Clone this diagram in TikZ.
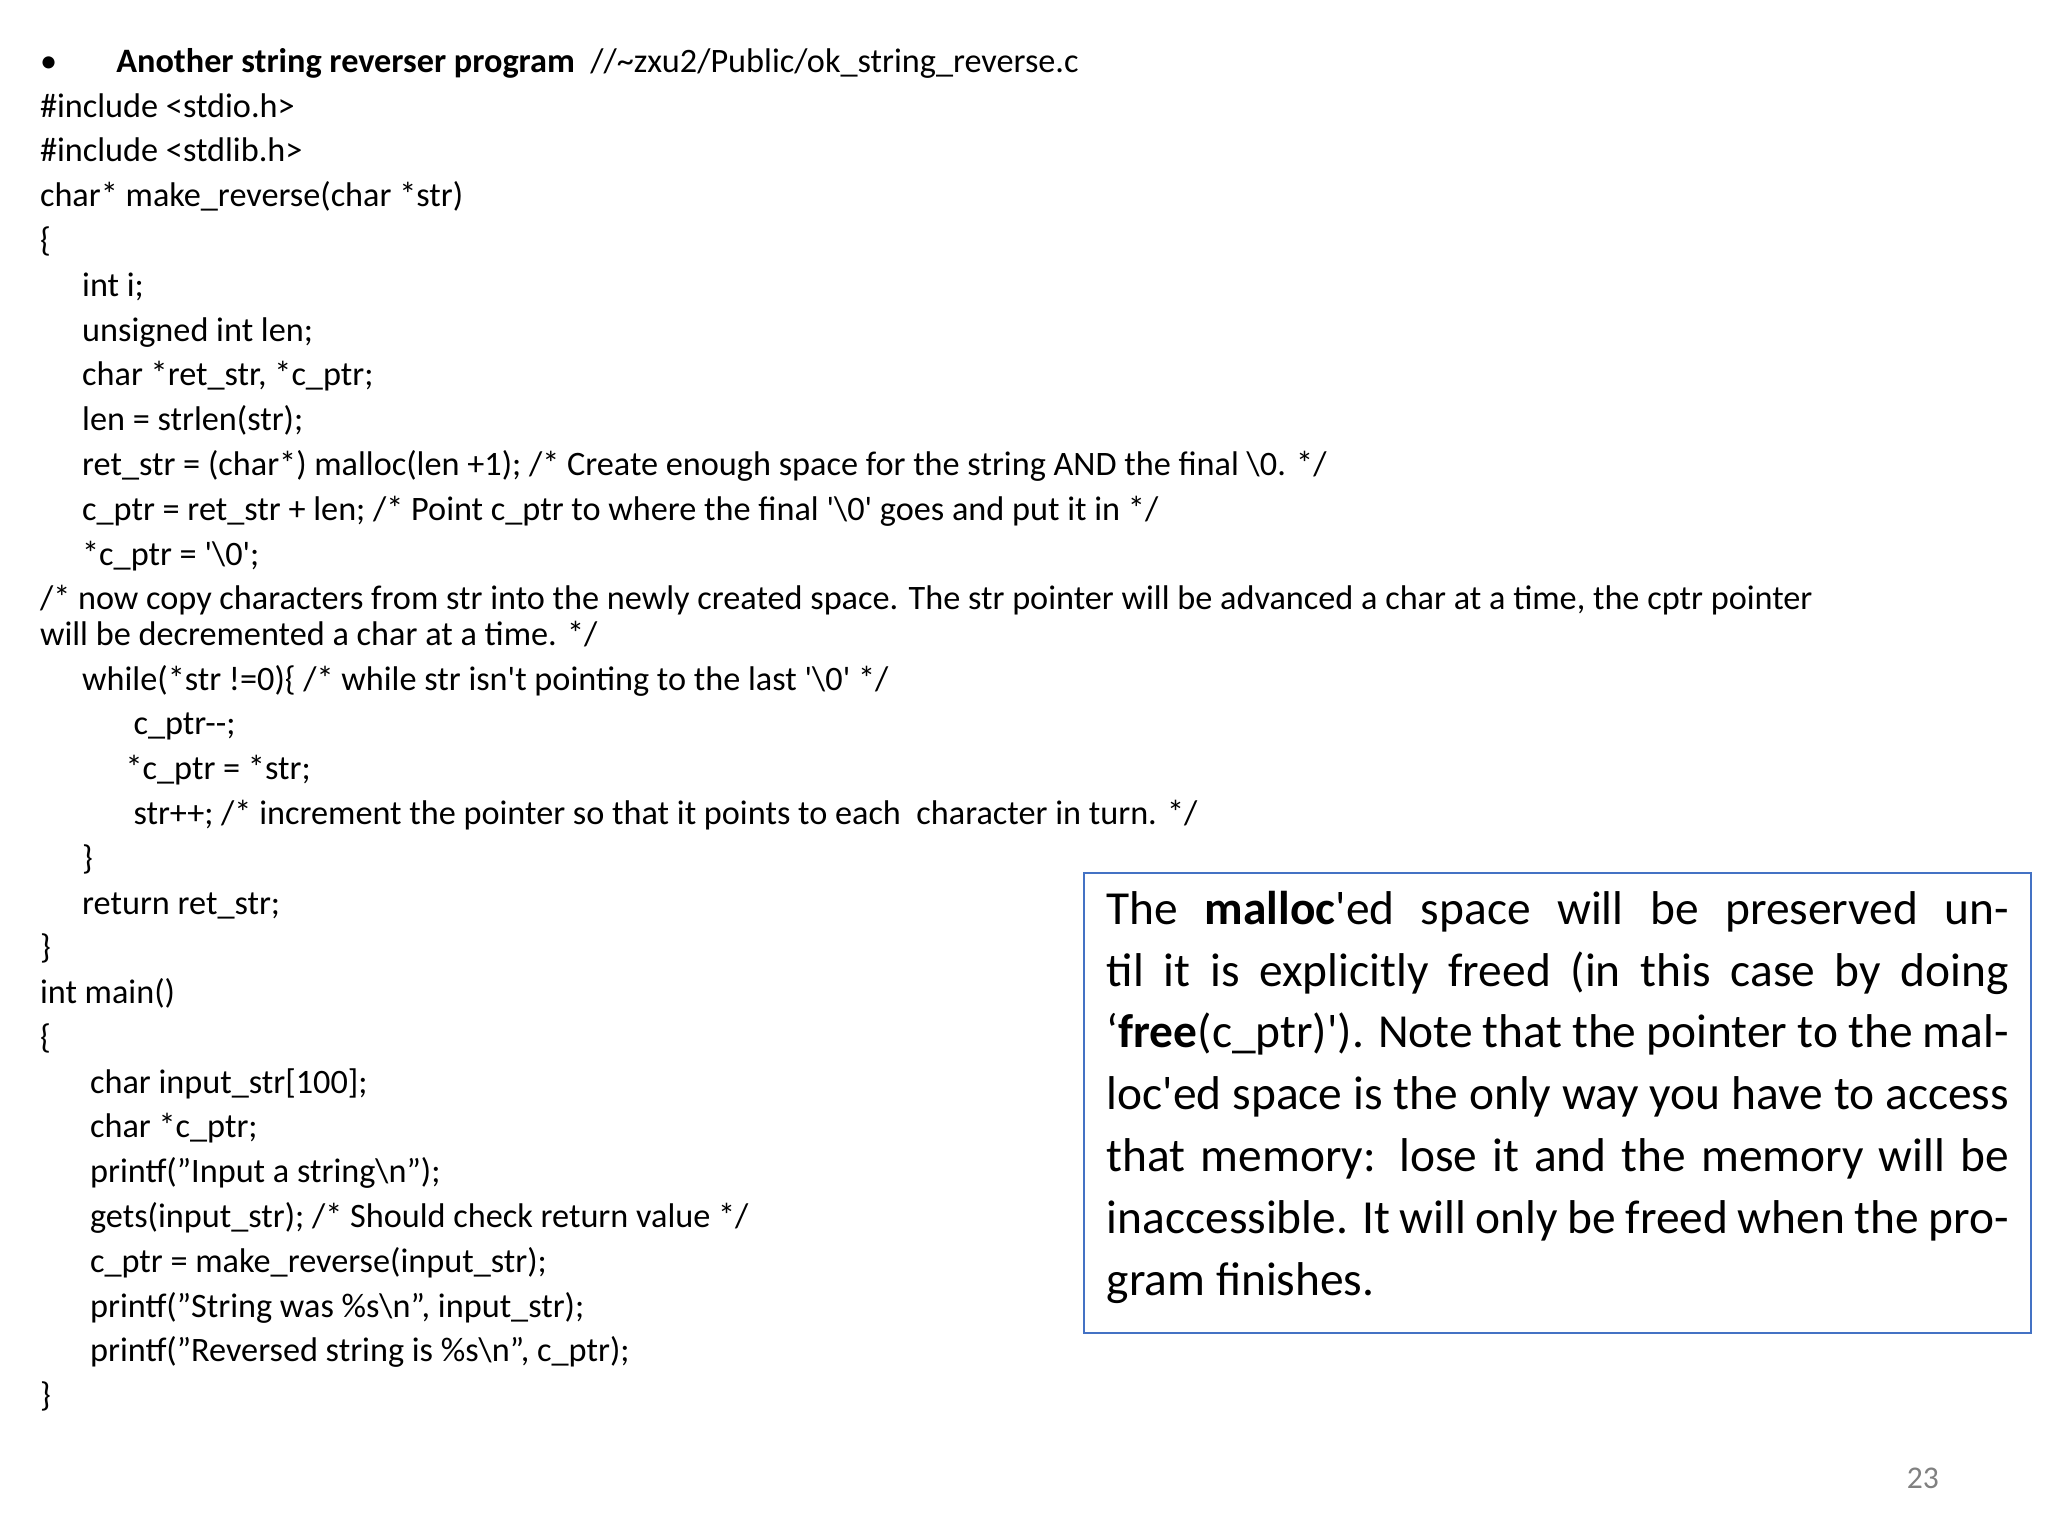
\documentclass[tikz,border=0pt]{standalone}
\usepackage{fontspec}
\setmainfont{Carlito}
\newcommand{\bsl}{\textbackslash}
\newcommand{\sq}{\textquotesingle}
\begin{document}
\begin{tikzpicture}[x=0.5pt,y=-0.5pt,
  cl/.style={anchor=base west,inner sep=0pt,font=\fontsize{13}{15}\selectfont}]
\useasboundingbox (0,0) rectangle (1555,1166);
\def\L#1#2#3{\node[cl] at (#1,#2+9) {#3};}
\node[cl] (bul) at (30,55) {•};
\node[cl] (title) at (88,55) {\textbf{Another string reverser program}\ \ //\textasciitilde zxu2/Public/ok\_string\_reverse.c};
\node[cl] (l1) at (30,89) {\#include <stdio.h>};
\node[cl] (l2) at (30,123) {\#include <stdlib.h>};
\node[cl] (l3) at (30,157) {char* make\_reverse(char *str)};
\node[cl] (l4) at (30,191) {\{};
\node[cl] (l5) at (62,225) {int i;};
\node[cl] (l6) at (62,259) {unsigned int len;};
\node[cl] (l7) at (62,293) {char *ret\_str, *c\_ptr;};
\node[cl] (l8) at (62,327) {len = strlen(str);};
\node[cl] (l9) at (62,361) {ret\_str = (char*) malloc(len +1); /* Create enough space for the string AND the final \bsl 0. */};
\node[cl] (l10) at (62,395) {c\_ptr = ret\_str + len; /* Point c\_ptr to where the final \sq\bsl 0\sq{} goes and put it in */};
\node[cl] (l11) at (62,429) {*c\_ptr = \sq\bsl 0\sq;};
\node[cl] (l12) at (30,463) {/* now copy characters from str into the newly created space. The str pointer will be advanced a char at a time, the cptr pointer};
\node[cl] (l13) at (30,490) {will be decremented a char at a time. */};
\node[cl] (l14) at (62,524) {while(*str !=0)\{ /* while str isn\sq t pointing to the last \sq\bsl 0\sq{} */};
\node[cl] (l15) at (101,558) {c\_ptr-{}-;};
\node[cl] (l16) at (95,592) {*c\_ptr = *str;};
\node[cl] (l17) at (101,626) {str++; /* increment the pointer so that it points to each\ \ character in turn. */};
\node[cl] (l18) at (62,660) {\}};
\node[cl] (l19) at (62,694) {return ret\_str;};
\node[cl] (l20) at (30,728) {\}};
\node[cl] (l21) at (30,762) {int main()};
\node[cl] (l22) at (30,796) {\{};
\node[cl] (l23) at (68,830) {char input\_str[100];};
\node[cl] (l24) at (68,864) {char *c\_ptr;};
\node[cl] (l25) at (68,898) {printf("Input a string\bsl n");};
\node[cl] (l26) at (68,932) {gets(input\_str); /* Should check return value */};
\node[cl] (l27) at (68,966) {c\_ptr = make\_reverse(input\_str);};
\node[cl] (l28) at (68,1000) {printf("String was \%s\bsl n", input\_str);};
\node[cl] (l29) at (68,1034) {printf("Reversed string is \%s\bsl n", c\_ptr);};
\node[cl] (l30) at (30,1068) {\}};
\draw[color={rgb,255:red,68;green,114;blue,196}, line width=0.8pt] (823,663) rectangle (1542,1012);
\node[anchor=north west,inner sep=0pt,text width=342.5pt,align=justify,
  font=\fontsize{18}{23.5}\selectfont] (box) at (840,676)
  {The \textbf{malloc}\sq ed space will be preserved until it is explicitly freed (in this case by doing \char"60\textbf{free}(c\_ptr)\sq). Note that the pointer to the malloc\sq ed space is the only way you have to access that memory: lose it and the memory will be inaccessible. It will only be freed when the program finishes.};
\node[anchor=base,inner sep=0pt,text=gray,font=\fontsize{12}{14}\selectfont] (pg) at (1460,1130) {23};
\end{tikzpicture}
\end{document}
